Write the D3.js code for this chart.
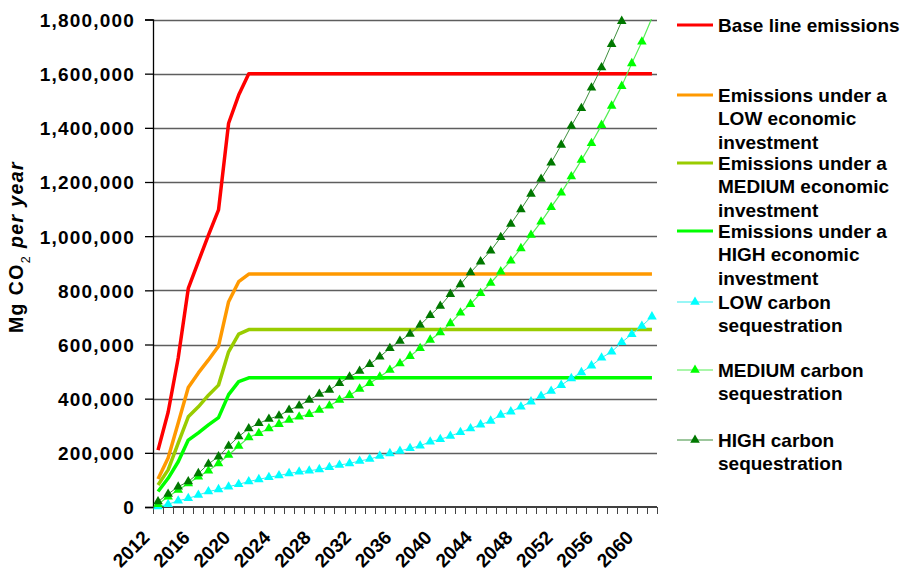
<!DOCTYPE html>
<html>
<head>
<meta charset="utf-8">
<script src="https://cdn.jsdelivr.net/npm/d3@7"></script>
<style>
  html, body { margin: 0; padding: 0; background: #fff; }
  svg { display: block; font-family: "Liberation Sans", Arial, sans-serif; font-weight: bold; }
</style>
</head>
<body>
<svg id="chart" width="902" height="576"></svg>
<script>
// Years on the category axis
const years = [2012, 2013, 2014, 2015, 2016, 2017, 2018, 2019, 2020, 2021,
  2022, 2023, 2024, 2025, 2026, 2027, 2028, 2029, 2030, 2031,
  2032, 2033, 2034, 2035, 2036, 2037, 2038, 2039, 2040, 2041,
  2042, 2043, 2044, 2045, 2046, 2047, 2048, 2049, 2050, 2051,
  2052, 2053, 2054, 2055, 2056, 2057, 2058, 2059, 2060, 2061];

// Labelled years (every fourth category)
const yearLabels = [2012, 2016, 2020, 2024, 2028, 2032, 2036, 2040, 2044, 2048, 2052, 2056, 2060];

// Value axis ticks (Mg CO2 per year)
const yTicks = [0, 200000, 400000, 600000, 800000, 1000000, 1200000, 1400000, 1600000, 1800000];

// Emission scenarios (Mg CO2 per year)
const baseline = [210000, 350000, 550000, 807000, 906000, 1004000, 1097000, 1417000, 1521000, 1600000,
  1600000, 1600000, 1600000, 1600000, 1600000, 1600000, 1600000, 1600000, 1600000, 1600000,
  1600000, 1600000, 1600000, 1600000, 1600000, 1600000, 1600000, 1600000, 1600000, 1600000,
  1600000, 1600000, 1600000, 1600000, 1600000, 1600000, 1600000, 1600000, 1600000, 1600000,
  1600000, 1600000, 1600000, 1600000, 1600000, 1600000, 1600000, 1600000, 1600000, 1600000];

const lowInvestment = [103000, 181000, 310000, 441000, 495000, 543000, 594000, 758000, 832000, 860000,
  860000, 860000, 860000, 860000, 860000, 860000, 860000, 860000, 860000, 860000,
  860000, 860000, 860000, 860000, 860000, 860000, 860000, 860000, 860000, 860000,
  860000, 860000, 860000, 860000, 860000, 860000, 860000, 860000, 860000, 860000,
  860000, 860000, 860000, 860000, 860000, 860000, 860000, 860000, 860000, 860000];

const mediumInvestment = [81000, 137000, 236000, 333000, 370000, 413000, 450000, 573000, 638000, 655000,
  655000, 655000, 655000, 655000, 655000, 655000, 655000, 655000, 655000, 655000,
  655000, 655000, 655000, 655000, 655000, 655000, 655000, 655000, 655000, 655000,
  655000, 655000, 655000, 655000, 655000, 655000, 655000, 655000, 655000, 655000,
  655000, 655000, 655000, 655000, 655000, 655000, 655000, 655000, 655000, 655000];

const highInvestment = [57000, 106000, 167000, 247000, 274000, 303000, 330000, 415000, 463000, 477000,
  477000, 477000, 477000, 477000, 477000, 477000, 477000, 477000, 477000, 477000,
  477000, 477000, 477000, 477000, 477000, 477000, 477000, 477000, 477000, 477000,
  477000, 477000, 477000, 477000, 477000, 477000, 477000, 477000, 477000, 477000,
  477000, 477000, 477000, 477000, 477000, 477000, 477000, 477000, 477000, 477000];

// Carbon sequestration scenarios (Mg CO2 per year)
const lowSequestration = [2000, 10000, 23000, 32000, 44000, 57000, 65000, 75000, 84000, 94000,
  102000, 110000, 116000, 124000, 130000, 134000, 139000, 147000, 155000, 161000,
  170000, 177000, 188000, 198000, 207000, 217000, 226000, 241000, 250000, 262000,
  276000, 290000, 304000, 318000, 340000, 352000, 370000, 389000, 410000, 428000,
  450000, 475000, 497000, 522000, 551000, 573000, 608000, 638000, 668000, 703000];

const mediumSequestration = [10000, 38000, 63000, 87000, 112000, 134000, 161000, 192000, 225000, 257000,
  272000, 290000, 306000, 321000, 333000, 343000, 358000, 374000, 395000, 413000,
  436000, 457000, 481000, 506000, 530000, 557000, 586000, 617000, 644000, 678000,
  717000, 749000, 789000, 827000, 869000, 909000, 955000, 1004000, 1053000, 1107000,
  1160000, 1220000, 1281000, 1343000, 1410000, 1481000, 1554000, 1638000, 1718000, 1806000];

const highSequestration = [20000, 48000, 75000, 94000, 124000, 159000, 186000, 225000, 260000, 290000,
  309000, 325000, 337000, 358000, 374000, 395000, 417000, 432000, 457000, 481000,
  502000, 527000, 555000, 586000, 613000, 639000, 672000, 708000, 742000, 786000,
  822000, 866000, 906000, 946000, 996000, 1045000, 1099000, 1156000, 1211000, 1271000,
  1337000, 1407000, 1472000, 1548000, 1623000, 1709000, 1794000];

// Legend text, one array of lines per series
const legendLabels = [
  ["Base line emissions"],
  ["Emissions under a", "LOW economic", "investment"],
  ["Emissions under a", "MEDIUM economic", "investment"],
  ["Emissions under a", "HIGH economic", "investment"],
  ["LOW carbon", "sequestration"],
  ["MEDIUM carbon", "sequestration"],
  ["HIGH carbon", "sequestration"]
];

const svg = d3.select("#chart");

const plot = { left: 153, right: 657, top: 19.5, bottom: 507 };

const x = d3.scaleBand().domain(years).range([plot.left, plot.right]).padding(0);
const y = d3.scaleLinear().domain([0, 1800000]).range([plot.bottom, plot.top]);
const cx = yr => x(yr) + x.bandwidth() / 2;

svg.append("defs").append("clipPath").attr("id", "plotClip")
  .append("rect")
  .attr("x", plot.left).attr("y", plot.top - 0.5)
  .attr("width", plot.right - plot.left + 2).attr("height", plot.bottom - plot.top + 1);

// Horizontal gridlines
svg.append("g")
  .selectAll("line")
  .data(yTicks.filter(v => v > 0))
  .join("line")
  .attr("x1", plot.left).attr("x2", plot.right)
  .attr("y1", d => Math.round(y(d)) + 0.5).attr("y2", d => Math.round(y(d)) + 0.5)
  .attr("stroke", "#5e5e5e").attr("stroke-width", 1.3);

// Value axis
const yAxis = d3.axisLeft(y).tickValues(yTicks).tickFormat(d3.format(",")).tickSize(8).tickPadding(10);
const gy = svg.append("g").attr("transform", `translate(${plot.left},0)`).call(yAxis);
gy.select(".domain").attr("stroke", "#000").attr("stroke-width", 1.3);
gy.selectAll(".tick line").attr("stroke", "#000").attr("stroke-width", 1.3);
gy.selectAll(".tick text")
  .attr("fill", "#000")
  .style("font-size", "19px")
  .style("font-weight", "bold")
  .style("letter-spacing", "1.2px")
  .style("font-family", "'Liberation Sans', Arial, sans-serif")
  .attr("dy", "0.36em");

// Category axis with ticks on category boundaries
const gx = svg.append("g").attr("transform", `translate(0,${plot.bottom})`);
gx.append("line")
  .attr("x1", plot.left).attr("x2", plot.right).attr("y1", 0).attr("y2", 0)
  .attr("stroke", "#000").attr("stroke-width", 1.3);
gx.selectAll("line.tick")
  .data(years.concat([null]))
  .join("line")
  .attr("class", "tick")
  .attr("x1", (d, i) => Math.round(plot.left + i * x.bandwidth()) + 0.5)
  .attr("x2", (d, i) => Math.round(plot.left + i * x.bandwidth()) + 0.5)
  .attr("y1", 0).attr("y2", 7)
  .attr("stroke", "#444").attr("stroke-width", 1);
gx.selectAll("text")
  .data(yearLabels)
  .join("text")
  .attr("transform", d => `translate(${cx(d) - 12},${27}) rotate(-45)`)
  .attr("text-anchor", "end")
  .attr("dy", "0.35em")
  .style("font-size", "19px")
  .attr("fill", "#000")
  .text(d => d);

// Value axis title
const title = svg.append("text")
  .attr("transform", "translate(23,247) rotate(-90)")
  .attr("text-anchor", "middle")
  .style("font-size", "19.5px")
  .style("letter-spacing", "1.4px")
  .attr("fill", "#000");
title.append("tspan").text("Mg CO");
title.append("tspan").attr("baseline-shift", "sub").style("font-size", "12.5px").style("font-weight", "normal").text("2");
title.append("tspan").text(" ");
title.append("tspan").style("font-style", "italic").text("per year");

// Series definitions
const series = [
  { values: baseline, color: "#ff0000", width: 3.5, marker: null },
  { values: lowInvestment, color: "#ff9900", width: 3.5, marker: null },
  { values: mediumInvestment, color: "#99cc00", width: 3.5, marker: null },
  { values: highInvestment, color: "#00ff00", width: 3.5, marker: null },
  { values: lowSequestration, color: "#33eeee", width: 1, marker: "#00ffff" },
  { values: mediumSequestration, color: "#55ee55", width: 1.2, marker: "#00ff00" },
  { values: highSequestration, color: "#3d8f3d", width: 1, marker: "#007800" }
];

const line = d3.line()
  .x((d, i) => cx(years[i]))
  .y(d => y(d));

const tri = d3.symbol().type(d3.symbolTriangle).size(40);

const lines = svg.append("g").attr("clip-path", "url(#plotClip)");
series.forEach(s => {
  lines.append("path")
    .datum(s.values)
    .attr("fill", "none")
    .attr("stroke", s.color)
    .attr("stroke-width", s.width)
    .attr("stroke-linejoin", "round")
    .attr("d", line);
});
series.filter(s => s.marker).forEach(s => {
  svg.append("g")
    .selectAll("path")
    .data(s.values.map((v, i) => ({ v, i })).filter(d => d.v <= 1800000))
    .join("path")
    .attr("transform", d => `translate(${cx(years[d.i])},${y(d.v)})`)
    .attr("d", tri)
    .attr("fill", s.marker);
});

// Legend
const legendPos = [25, 95, 163, 231, 302, 370, 440];
const lg = svg.append("g");
series.forEach((s, k) => {
  const yy = legendPos[k];
  lg.append("line")
    .attr("x1", 677).attr("x2", 713).attr("y1", yy).attr("y2", yy)
    .attr("stroke", s.color)
    .attr("stroke-width", s.marker ? 1.2 : 3);
  if (s.marker) {
    lg.append("path")
      .attr("transform", `translate(695,${yy})`)
      .attr("d", tri)
      .attr("fill", s.marker);
  }
  const t = lg.append("text")
    .attr("x", 718).attr("y", yy)
    .style("font-size", "19px")
    .attr("fill", "#000");
  legendLabels[k].forEach((ln, j) => {
    t.append("tspan").attr("x", 718).attr("dy", j === 0 ? "0.36em" : "23.5px").text(ln);
  });
});
</script>
</body>
</html>
